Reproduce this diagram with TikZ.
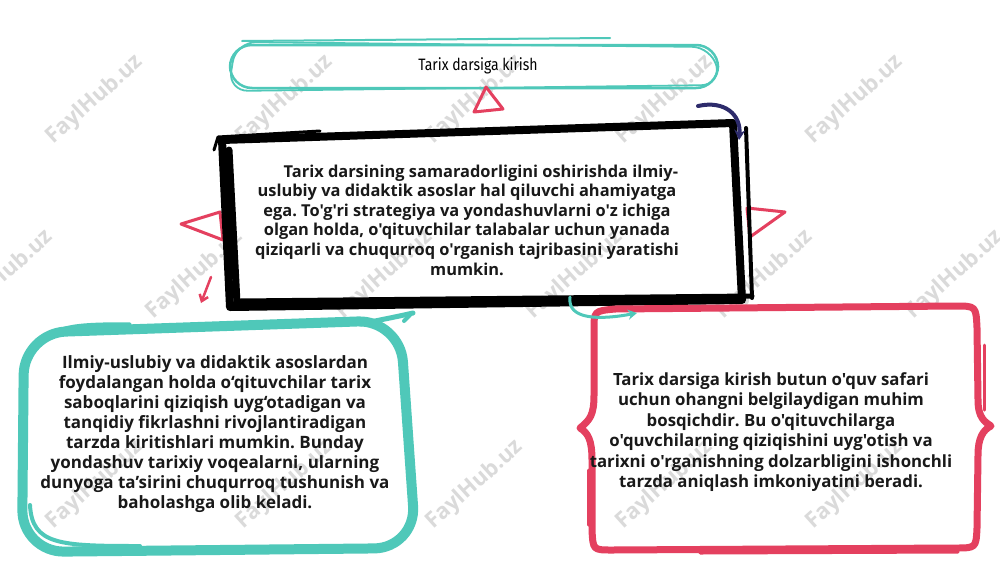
\documentclass[tikz,border=0pt]{standalone}
\usepackage{fontspec}
\newfontfamily\bodyfont[Ligatures=TeXOff]{Open Sans}
\newfontfamily\titlefont[FakeStretch=0.85]{Fira Sans}
\usetikzlibrary{arrows.meta}
\definecolor{tealc}{HTML}{4FC8B9}
\definecolor{pinkc}{HTML}{E4405F}
\definecolor{navyc}{HTML}{2D2B6B}
\definecolor{wmark}{HTML}{DADADA}
\frenchspacing
\begin{document}
\begin{tikzpicture}[x=1pt,y=-1pt,
  body/.style={align=center, inner sep=0pt, text=black!90},
  mainfont/.style={font=\bodyfont\bfseries\fontsize{16.4}{19.6}\selectfont},
  leftfont/.style={font=\bodyfont\bfseries\fontsize{17}{20}\selectfont},
  rightfont/.style={font=\bodyfont\bfseries\fontsize{16.8}{20.4}\selectfont},
  wm/.style={font=\bodyfont\bfseries\fontsize{22}{22}\selectfont, text=wmark, rotate=42, inner sep=0pt},
  brush/.style={line cap=round, line join=round},
  tri/.style={pinkc, line width=3, line join=round},
]
\useasboundingbox (0,0) rectangle (1000,563);
\fill[white] (0,0) rectangle (1000,563);

% watermarks
\foreach \x [count=\i] in {95,285,475,665,855} {
  \node[wm] (wmA\i) at (\x,100) {FaylHub.uz};
  \node[wm] (wmC\i) at (\x,485) {FaylHub.uz};
}
\foreach \x [count=\i] in {5,195,385,575,765,955} {
  \node[wm] (wmB\i) at (\x,275) {FaylHub.uz};
}

% title pill
\draw[tealc, line width=2.5, rounded corners=22] (230,45) rectangle (718,88);
\draw[tealc, line width=1.8, rounded corners=20, brush] (236,42) -- (712,47) -- (721,85) -- (228,91) -- cycle;
\draw[tealc, line width=2, brush] (242,41) -- (610,38);
\node[font=\titlefont\fontsize{16.5}{20}\selectfont] (title) at (478,66) {Tarix darsiga kirish};

% triangles
\draw[tri] (486,87) -- (474,112) -- (503,109) -- cycle;
\draw[tri] (181,224) -- (220,212) -- (223,240) -- cycle;
\draw[tri] (747,208) -- (785,212) -- (750,237) -- cycle;

% black box
\draw[line width=8, brush] (222,140) -- (733,123) -- (742,300) -- (230,307) -- cycle;
\draw[line width=3, brush] (214,150) -- (218,137) -- (320,131);
\draw[line width=4, brush] (746,128) -- (752,298);
\draw[line width=7, brush] (229,150) -- (237,303);
\draw[line width=5, brush] (240,301) -- (752,296);

% navy arrow
\draw[navyc, line width=4, brush, -{Stealth[length=10pt,width=11pt]}] (698,106) .. controls (725,100) and (741,115) .. (739,140);

% left pink small arrow
\draw[pinkc, line width=2.5, brush, -{Straight Barb[length=6pt,width=9pt]}] (211,277) -- (201,303);

% teal box
\draw[tealc, line width=10, rounded corners=42, brush] (24,333) -- (400,320) -- (416,548) -- (22,552) -- cycle;
\draw[tealc, line width=4, brush] (30,505) .. controls (32,545) and (60,546) .. (140,546);
\draw[tealc, line width=3.5, brush] (40,343) .. controls (55,325) and (80,324) .. (130,324);
\draw[tealc, line width=5, brush] (360,324) .. controls (385,319) and (400,316) .. (413,313);
\draw[tealc, line width=4, brush] (404,321) -- (410,315);

% pink box
\draw[pinkc, line width=7, brush]
 (580,428) .. controls (590,420) and (594,415) .. (594,395) -- (594,330)
 .. controls (594,311) .. (615,309) -- (955,306)
 .. controls (976,306) .. (977,328) -- (978,400)
 .. controls (978,418) and (985,422) .. (991,426)
 .. controls (983,430) and (978,438) .. (978,455) -- (977,528)
 .. controls (976,548) .. (955,548) -- (612,550)
 .. controls (593,550) .. (592,530) -- (592,460)
 .. controls (592,440) and (588,433) .. (580,428) -- cycle;
\draw[pinkc, line width=3, brush] (700,553) -- (958,552);
\draw[pinkc, line width=3, brush] (984,345) -- (984,410);
\draw[pinkc, line width=3, brush] (588,470) -- (588,525);

% teal connector to pink box
\coordinate (tstart) at (570,297);
\coordinate (tend) at (637,313);
\draw[tealc, line width=3, brush, -{Stealth[length=9pt,width=10pt]}] (tstart) .. controls (567,320) and (600,320) .. (tend);

% texts
\node[body, mainfont] (main) at (467,220) {\hspace*{1.7em}Tarix darsining samaradorligini oshirishda ilmiy-\\
uslubiy va didaktik asoslar hal qiluvchi ahamiyatga\\
ega. To'g'ri strategiya va yondashuvlarni o'z ichiga\\
olgan holda, o'qituvchilar talabalar uchun yanada\\
qiziqarli va chuqurroq o'rganish tajribasini yaratishi\\
mumkin.};

\node[body, leftfont] (left) at (215,434) {Ilmiy-uslubiy va didaktik asoslardan\\
foydalangan holda o‘qituvchilar tarix\\
saboqlarini qiziqish uyg‘otadigan va\\
tanqidiy fikrlashni rivojlantiradigan\\
tarzda kiritishlari mumkin. Bunday\\
yondashuv tarixiy voqealarni, ularning\\
dunyoga ta’sirini chuqurroq tushunish va\\
baholashga olib keladi.};

\node[body, rightfont] (right) at (771,432) {Tarix darsiga kirish butun o'quv safari\\
uchun ohangni belgilaydigan muhim\\
bosqichdir. Bu o'qituvchilarga\\
o'quvchilarning qiziqishini uyg'otish va\\
tarixni o'rganishning dolzarbligini ishonchli\\
tarzda aniqlash imkoniyatini beradi.};
\end{tikzpicture}
\end{document}
